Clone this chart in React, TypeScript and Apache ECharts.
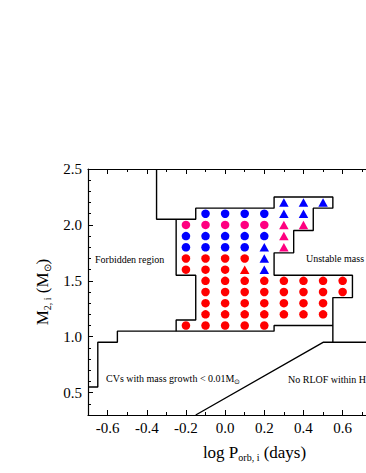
import React, { useEffect, useRef } from "react";
import * as echarts from "echarts";

const FONT = "'Liberation Serif', 'Times New Roman', Times, serif";

// tick values
const xLabels = [-0.6, -0.4, -0.2, 0, 0.2, 0.4, 0.6];
const xMajor = [-0.6, -0.4, -0.2, 0, 0.2, 0.4, 0.6, 0.8, 1.0];
const xMinor = [-0.7, -0.5, -0.3, -0.1, 0.1, 0.3, 0.5, 0.7, 0.9];
const yMajor = [0.5, 1.0, 1.5, 2.0, 2.5];
const yMinor = [0.3, 0.4, 0.6, 0.7, 0.8, 0.9, 1.1, 1.2, 1.3, 1.4, 1.6, 1.7, 1.8, 1.9, 2.1, 2.2, 2.3, 2.4];

// model points [log P, M2]
const redCircles = [
  [-0.2, 1.7], [-0.1, 1.7], [0, 1.7], [0.1, 1.7],
  [-0.2, 1.6], [-0.1, 1.6], [0, 1.6],
  [-0.1, 1.5], [0, 1.5], [0.1, 1.5], [0.2, 1.5], [0.3, 1.5], [0.4, 1.5], [0.5, 1.5], [0.6, 1.5],
  [-0.1, 1.4], [0, 1.4], [0.1, 1.4], [0.2, 1.4], [0.3, 1.4], [0.4, 1.4], [0.5, 1.4], [0.6, 1.4],
  [-0.1, 1.3], [0, 1.3], [0.1, 1.3], [0.2, 1.3], [0.3, 1.3], [0.4, 1.3], [0.5, 1.3],
  [-0.1, 1.2], [0, 1.2], [0.1, 1.2], [0.2, 1.2], [0.3, 1.2], [0.4, 1.2], [0.5, 1.2],
  [-0.2, 1.1], [-0.1, 1.1], [0, 1.1], [0.1, 1.1], [0.2, 1.1],
];
const blueCircles = [
  [-0.1, 2.1], [0, 2.1], [0.1, 2.1], [0.2, 2.1],
  [-0.2, 1.9], [-0.1, 1.9], [0, 1.9], [0.1, 1.9], [0.2, 1.9],
  [-0.2, 1.8], [-0.1, 1.8], [0, 1.8], [0.1, 1.8],
];
const pinkCircles = [[-0.2, 2.0], [-0.1, 2.0], [0, 2.0], [0.1, 2.0], [0.2, 2.0]];
const redTriangles = [[0.1, 1.6]];
const blueTriangles = [
  [0.3, 2.2], [0.4, 2.2], [0.5, 2.2],
  [0.3, 2.1], [0.4, 2.1],
  [0.2, 1.8], [0.2, 1.7], [0.2, 1.6],
];
const pinkTriangles = [[0.3, 2.0], [0.4, 2.0], [0.3, 1.9], [0.3, 1.8]];

// region boundaries
const boundaryUpper = [
  [-0.35, 2.5], [-0.35, 2.05], [-0.15, 2.05], [-0.15, 2.15], [0.25, 2.15], [0.25, 2.25],
  [0.55, 2.25], [0.55, 2.15], [0.45, 2.15], [0.45, 1.95], [0.35, 1.95], [0.35, 1.75],
  [0.25, 1.75], [0.25, 1.55], [0.65, 1.55], [0.65, 1.35], [0.55, 1.35], [0.55, 0.95],
];
const boundaryNotch = [
  [-0.25, 2.05], [-0.25, 1.55], [-0.15, 1.55], [-0.15, 1.15], [-0.25, 1.15], [-0.25, 1.05],
];
const boundaryLower = [
  [-0.7, 0.55], [-0.65, 0.55], [-0.65, 0.95], [-0.55, 0.95], [-0.55, 1.05],
  [0.25, 1.05], [0.25, 1.1], [0.55, 1.1],
];
const boundaryRLOF = [[-0.15, 0.3], [0.5, 0.95], [1.0, 0.95]];

const RED = "#FF0000";
const BLUE = "#0000FF";
const PINK = "#FF0080";

export default function App() {
  const ref = useRef<HTMLDivElement>(null);
  useEffect(() => {
    if (!ref.current) return;
    const chart = echarts.init(ref.current, null, { renderer: "svg" });
    const fmt = (v: number) => v.toFixed(1);
    const baseX = {
      type: "value",
      min: -0.7,
      max: 1.0,
      splitLine: { show: false },
    };
    const baseY = {
      type: "value",
      min: 0.3,
      max: 2.5,
      splitLine: { show: false },
    };
    const axisLine = { show: true, onZero: false, lineStyle: { color: "#000", width: 1.2 } };
    const noLine = { show: false, onZero: false };
    const labelStyle = { color: "#000", fontFamily: FONT, fontSize: 15 };
    const titleRich = {
      m: { fontFamily: FONT, fontSize: 17, color: "#000", lineHeight: 20, verticalAlign: "middle" },
      s: { fontFamily: FONT, fontSize: 10, color: "#000", lineHeight: 11, verticalAlign: "bottom" },
    };
    const scatter = (data: number[][], symbol: string, color: string, size: number | number[]) => ({
      type: "scatter",
      data,
      symbol,
      symbolSize: size,
      itemStyle: { color, opacity: 1 },
      z: 3,
    });
    const line = (data: number[][]) => ({
      type: "line",
      data,
      symbol: "none",
      lineStyle: { color: "#000", width: 1.4 },
      clip: true,
      z: 2,
    });
    chart.setOption({
      animation: false,
      backgroundColor: "#fff",
      grid: { left: 88, top: 169, width: 333, height: 246 },
      xAxis: [
        {
          ...baseX,
          position: "bottom",
          axisLine,
          axisTick: { inside: true, length: 5, customValues: xMajor, lineStyle: { color: "#000" } },
          axisLabel: { ...labelStyle, margin: 5, customValues: xLabels, formatter: fmt },
          name: "{m|log P}{s|orb, i}{m| (days)}",
          nameLocation: "middle",
          nameGap: 27,
          nameTextStyle: { rich: titleRich },
        },
        {
          ...baseX,
          position: "bottom",
          axisLine: noLine,
          axisTick: { inside: true, length: 3, customValues: xMinor, lineStyle: { color: "#000" } },
          axisLabel: { show: false },
        },
        {
          ...baseX,
          position: "top",
          axisLine,
          axisTick: { inside: true, length: 5, customValues: xMajor, lineStyle: { color: "#000" } },
          axisLabel: { show: false },
        },
        {
          ...baseX,
          position: "top",
          axisLine: noLine,
          axisTick: { inside: true, length: 3, customValues: xMinor, lineStyle: { color: "#000" } },
          axisLabel: { show: false },
        },
      ],
      yAxis: [
        {
          ...baseY,
          position: "left",
          axisLine,
          axisTick: { inside: true, length: 5, customValues: yMajor, lineStyle: { color: "#000" } },
          axisLabel: { ...labelStyle, margin: 6, customValues: yMajor, formatter: fmt },
          name: "{m|M}{s|2, i}{m| (M}{s|⊙}{m|)}",
          nameLocation: "middle",
          nameRotate: 90,
          nameGap: 27,
          nameTextStyle: { rich: titleRich },
        },
        {
          ...baseY,
          position: "left",
          axisLine: noLine,
          axisTick: { inside: true, length: 3, customValues: yMinor, lineStyle: { color: "#000" } },
          axisLabel: { show: false },
        },
      ],
      graphic: [
        {
          type: "text",
          left: 95,
          top: 254,
          style: { text: "Forbidden region", fontFamily: FONT, fontSize: 10, fill: "#000" },
        },
        {
          type: "text",
          left: 306,
          top: 253,
          style: { text: "Unstable mass transfer", fontFamily: FONT, fontSize: 10, fill: "#000" },
        },
        {
          type: "text",
          left: 106,
          top: 373,
          style: {
            text: "{m|CVs with mass growth < 0.01M}{s|⊙}",
            rich: {
              m: { fontFamily: FONT, fontSize: 10, fill: "#000", lineHeight: 14, verticalAlign: "middle" },
              s: { fontFamily: FONT, fontSize: 7, fill: "#000", lineHeight: 8, verticalAlign: "bottom" },
            },
          },
        },
        {
          type: "text",
          left: 288,
          top: 374,
          style: { text: "No RLOF within Hubble time", fontFamily: FONT, fontSize: 10, fill: "#000" },
        },
      ],
      series: [
        line(boundaryUpper),
        line(boundaryNotch),
        line(boundaryLower),
        line(boundaryRLOF),
        scatter(redCircles, "circle", RED, 8.5),
        scatter(blueCircles, "circle", BLUE, 8.5),
        scatter(pinkCircles, "circle", PINK, 8.5),
        scatter(redTriangles, "triangle", RED, [9.5, 8.5]),
        scatter(blueTriangles, "triangle", BLUE, [9.5, 8.5]),
        scatter(pinkTriangles, "triangle", PINK, [9.5, 8.5]),
      ],
    });
    return () => chart.dispose();
  }, []);
  return (
    <div
      style={{
        position: "fixed",
        left: 0,
        top: 0,
        width: 366,
        height: 473,
        overflow: "hidden",
        background: "#fff",
      }}
    >
      <div ref={ref} style={{ width: 440, height: 473 }} />
    </div>
  );
}
